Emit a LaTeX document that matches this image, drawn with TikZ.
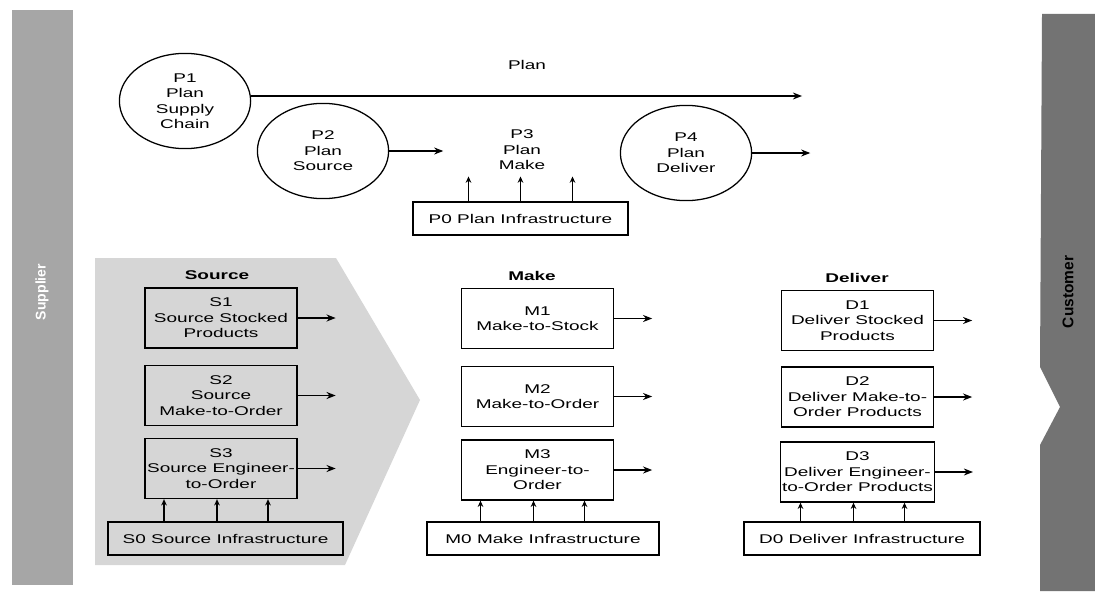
\documentclass[tikz,border=0pt]{standalone}
\usepackage{fontspec}
\setmainfont[FakeStretch=1.5]{Liberation Sans}
\newfontfamily\barfont{Liberation Sans}
\usetikzlibrary{arrows.meta, shapes.geometric, calc}
\colorlet{supplierbar}{black!35}
\colorlet{customerbar}{black!55}
\colorlet{sourcearrow}{black!16}
\newcommand{\boxfont}{\fontsize{9}{11}\selectfont}

\tikzset{
  procbox/.style={draw, line width=0.9pt, minimum width=3.8cm, minimum height=1.5cm,
    align=center, inner sep=1pt, font=\boxfont},
  infrabox/.style={draw, line width=0.9pt, minimum height=0.82cm, inner sep=1pt, font=\boxfont},
  planellipse/.style={draw, ellipse, line width=0.9pt, minimum width=3.28cm,
    minimum height=2.38cm, inner sep=0pt, align=center, font=\boxfont},
  header/.style={font=\boxfont\bfseries},
  flow/.style={-{Stealth[length=6.5pt,width=5pt]}, line width=0.8pt},
  upflow/.style={-{Stealth[length=4.5pt,width=4pt]}, line width=0.8pt}
}

\begin{document}
\begin{tikzpicture}[x=0.025cm, y=-0.025cm]
    \useasboundingbox (0,0) rectangle (1095,591);

    % Supplier and customer bars
    \fill[supplierbar] (12,10) rectangle (73,585);
    \node[rotate=90, text=white, font=\barfont\fontsize{10}{11}\selectfont\bfseries] (supplier) at (42,292) {Supplier};
    \fill[customerbar] (1042,14) -- (1095,14) -- (1095,591) -- (1040,591)
        -- (1040,445) -- (1060,407) -- (1040,367) -- cycle;
    \node[rotate=90, font=\barfont\fontsize{11}{12}\selectfont\bfseries] (customer) at (1068,292) {Customer};

    % Source chevron
    \fill[sourcearrow] (95,258) -- (336,258) -- (420,400) -- (345,565) -- (95,565) -- cycle;

    % Plan
    \node[font=\boxfont] (plan) at (527,65) {Plan};
    \node[planellipse] (P1) at (185,101) {P1\\Plan\\Supply\\Chain};
    \node[planellipse] (P2) at (323,151) {P2\\Plan\\Source};
    \node[align=center, font=\boxfont] (P3) at (522,150) {P3\\Plan\\Make};
    \node[planellipse] (P4) at (686,153) {P4\\Plan\\Deliver};
    \node[infrabox, minimum width=5.375cm] (P0) at (520.5,218.5) {P0 Plan Infrastructure};
    \coordinate (planend) at (802,96);

    \draw[flow] (P1.east |- planend) -- (planend);
    \draw[flow] (P2.east) -- ++(54,0);
    \draw[flow] (P4.east) -- ++(58,0);
    \foreach \dx in {-52,0,52}
        \draw[upflow] ($(P0.north)+(\dx,0)$) -- ++(0,-25);

    % Source
    \node[header] (source) at (217,275) {Source};
    \node[procbox] (S1) at (221,318) {S1\\Source Stocked\\Products};
    \node[procbox] (S2) at (221,395.5) {S2\\Source\\Make-to-Order};
    \node[procbox] (S3) at (221,468.5) {S3\\Source Engineer-\\to-Order};
    \node[infrabox, minimum width=5.875cm] (S0) at (225.5,538.5) {S0 Source Infrastructure};

    % Make
    \node[header] (make) at (532,276) {Make};
    \node[procbox] (M1) at (537.5,318.5) {M1\\Make-to-Stock};
    \node[procbox] (M2) at (537.5,396.5) {M2\\Make-to-Order};
    \node[procbox] (M3) at (537.5,470) {M3\\Engineer-to-\\Order};
    \node[infrabox, minimum width=5.8cm] (M0) at (543,538.5) {M0 Make Infrastructure};

    % Deliver
    \node[header] (deliver) at (857,278) {Deliver};
    \node[procbox] (D1) at (857.5,320.5) {D1\\Deliver Stocked\\Products};
    \node[procbox] (D2) at (857.5,397) {D2\\Deliver Make-to-\\Order Products};
    \node[procbox] (D3) at (857.5,472) {D3\\Deliver Engineer-\\to-Order Products};
    \node[infrabox, minimum width=5.9cm] (D0) at (862,538.5) {D0 Deliver Infrastructure};

    % Outputs and infrastructure support
    \foreach \p in {S1,S2,S3,M1,M2,M3,D1,D2,D3}
        \draw[flow] (\p.east) -- ++(38,0);
    \foreach \top/\base in {S3/S0,M3/M0,D3/D0}
        \foreach \dx in {-57,-4,47}
            \draw[upflow] ($(\base.north -| \top.south)+(\dx,0)$) -- ($(\top.south)+(\dx,0)$);
  \end{tikzpicture}
\end{document}
